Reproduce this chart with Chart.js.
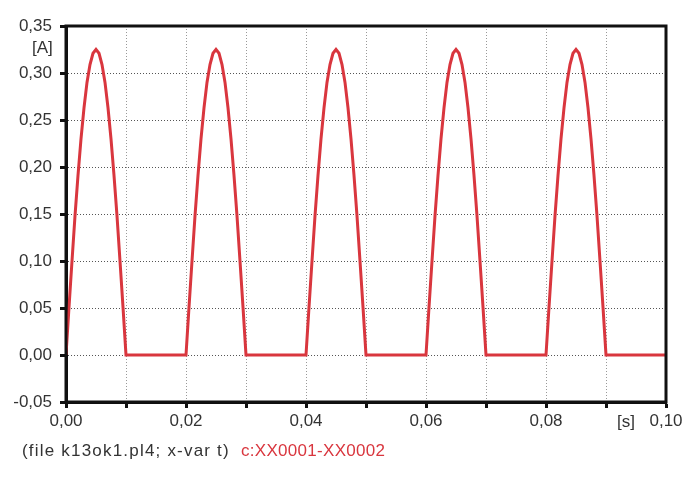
<!DOCTYPE html>
<html>
<head>
<meta charset="utf-8">
<script src="https://cdn.jsdelivr.net/npm/chart.js@4"></script>
<style>
  body { margin: 0; background: #fff; }
  #wrap { position: relative; width: 700px; height: 479px; }
  .lbl { position: absolute; font-family: "Liberation Sans", Arial, sans-serif; color: #333; white-space: nowrap; }
</style>
</head>
<body>
<div id="wrap">
  <canvas id="chart" width="700" height="479"></canvas>
  <div class="lbl" style="left:32px; top:38px; font-size:17px;">[A]</div>
  <div class="lbl" style="left:617px; top:412px; font-size:17px;">[s]</div>
  <div class="lbl" style="left:22px; top:441px; font-size:17px; letter-spacing:1.2px;">(file k13ok1.pl4; x-var t)</div>
  <div class="lbl" style="left:241px; top:441px; font-size:17px; letter-spacing:0.3px; color:#d9363e;">c:XX0001-XX0002</div>
</div>
<script>
// time [s] and current [A]
const timeS = [
  0.0000, 0.0005, 0.0010, 0.0015, 0.0020, 0.0025, 0.0030, 0.0035, 0.0040, 0.0045, 0.0050,
  0.0055, 0.0060, 0.0065, 0.0070, 0.0075, 0.0080, 0.0085, 0.0090, 0.0095, 0.0100,
  0.0200, 0.0205, 0.0210, 0.0215, 0.0220, 0.0225, 0.0230, 0.0235, 0.0240, 0.0245, 0.0250,
  0.0255, 0.0260, 0.0265, 0.0270, 0.0275, 0.0280, 0.0285, 0.0290, 0.0295, 0.0300,
  0.0400, 0.0405, 0.0410, 0.0415, 0.0420, 0.0425, 0.0430, 0.0435, 0.0440, 0.0445, 0.0450,
  0.0455, 0.0460, 0.0465, 0.0470, 0.0475, 0.0480, 0.0485, 0.0490, 0.0495, 0.0500,
  0.0600, 0.0605, 0.0610, 0.0615, 0.0620, 0.0625, 0.0630, 0.0635, 0.0640, 0.0645, 0.0650,
  0.0655, 0.0660, 0.0665, 0.0670, 0.0675, 0.0680, 0.0685, 0.0690, 0.0695, 0.0700,
  0.0800, 0.0805, 0.0810, 0.0815, 0.0820, 0.0825, 0.0830, 0.0835, 0.0840, 0.0845, 0.0850,
  0.0855, 0.0860, 0.0865, 0.0870, 0.0875, 0.0880, 0.0885, 0.0890, 0.0895, 0.0900,
  0.1000
];
const currentA = [
  0.000, 0.051, 0.100, 0.148, 0.191, 0.230, 0.263, 0.290, 0.309, 0.321, 0.325,
  0.321, 0.309, 0.290, 0.263, 0.230, 0.191, 0.148, 0.100, 0.051, 0.000,
  0.000, 0.051, 0.100, 0.148, 0.191, 0.230, 0.263, 0.290, 0.309, 0.321, 0.325,
  0.321, 0.309, 0.290, 0.263, 0.230, 0.191, 0.148, 0.100, 0.051, 0.000,
  0.000, 0.051, 0.100, 0.148, 0.191, 0.230, 0.263, 0.290, 0.309, 0.321, 0.325,
  0.321, 0.309, 0.290, 0.263, 0.230, 0.191, 0.148, 0.100, 0.051, 0.000,
  0.000, 0.051, 0.100, 0.148, 0.191, 0.230, 0.263, 0.290, 0.309, 0.321, 0.325,
  0.321, 0.309, 0.290, 0.263, 0.230, 0.191, 0.148, 0.100, 0.051, 0.000,
  0.000, 0.051, 0.100, 0.148, 0.191, 0.230, 0.263, 0.290, 0.309, 0.321, 0.325,
  0.321, 0.309, 0.290, 0.263, 0.230, 0.191, 0.148, 0.100, 0.051, 0.000,
  0.000
];
const xLabelTicks = [0, 0.02, 0.04, 0.06, 0.08, 0.10];

const points = timeS.map((t, i) => ({ x: t, y: currentA[i] }));
const fmt = v => (Math.abs(v) < 1e-9 ? 0 : v).toFixed(2).replace('.', ',');

// full frame around the plot area
const framePlugin = {
  id: 'frame',
  afterDraw(chart) {
    const { ctx, chartArea: a } = chart;
    ctx.save();
    ctx.strokeStyle = '#111';
    ctx.lineWidth = 3;
    ctx.setLineDash([]);
    ctx.strokeRect(a.left, a.top, a.right - a.left, a.bottom - a.top);
    ctx.restore();
  }
};

const font = { family: '"Liberation Sans", Arial, sans-serif', size: 17 };

new Chart(document.getElementById('chart'), {
  type: 'scatter',
  data: {
    datasets: [{
      data: points,
      showLine: true,
      borderColor: '#d9363e',
      borderWidth: 3,
      pointRadius: 0,
      tension: 0
    }]
  },
  options: {
    responsive: false,
    animation: false,
    layout: { padding: { top: 26, right: 34, left: 0, bottom: 0 } },
    plugins: { legend: { display: false }, tooltip: { enabled: false } },
    scales: {
      x: {
        type: 'linear',
        min: 0,
        max: 0.1,
        afterFit: s => { s.height = 77; },
        ticks: {
          stepSize: 0.01,
          autoSkip: false,
          maxRotation: 0,
          padding: 3,
          color: '#333',
          font: font,
          callback: v => xLabelTicks.some(t => Math.abs(t - v) < 1e-9) ? fmt(v) : ''
        },
        grid: { color: '#999', tickLength: 6, tickColor: '#111', tickWidth: 3 },
        border: { color: '#111', width: 3, dash: [1, 2] }
      },
      y: {
        min: -0.05,
        max: 0.35,
        afterFit: s => { s.width = 66; },
        ticks: {
          stepSize: 0.05,
          padding: 8,
          color: '#333',
          font: font,
          callback: v => fmt(v)
        },
        grid: { color: '#555', tickLength: 6, tickColor: '#111', tickWidth: 3 },
        border: { color: '#111', width: 3, dash: [1, 2] }
      }
    }
  },
  plugins: [framePlugin]
});
</script>
</body>
</html>
